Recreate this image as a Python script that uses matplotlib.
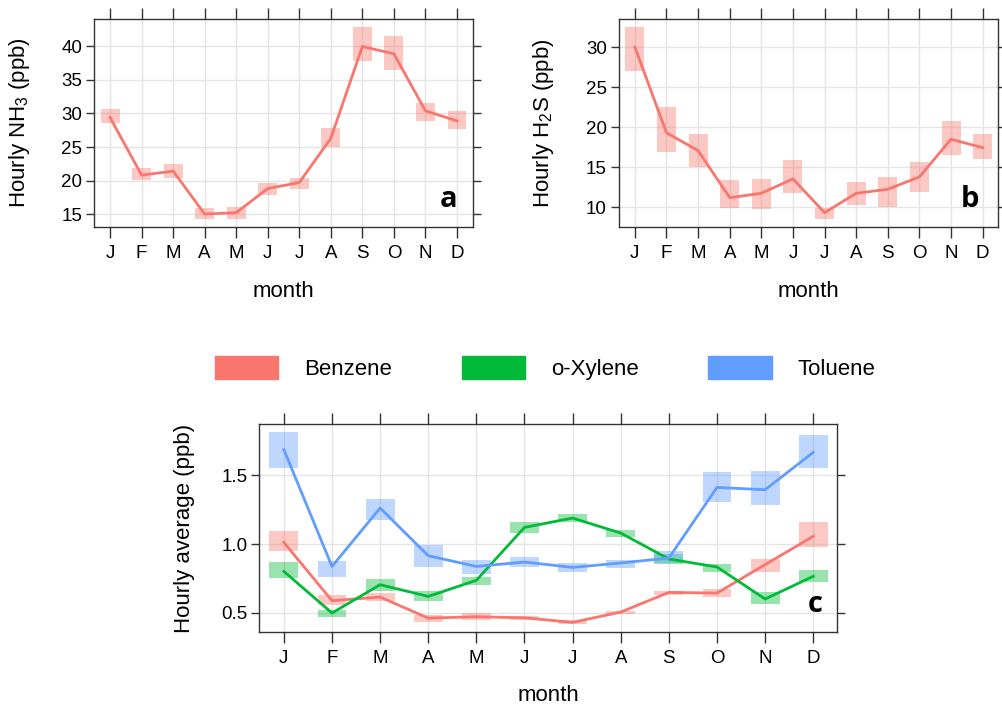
import matplotlib
matplotlib.use("Agg")
import matplotlib.pyplot as plt
from matplotlib.patches import Patch

plt.rcParams['font.family'] = ['Liberation Sans', 'DejaVu Sans']
plt.rcParams['mathtext.default'] = 'regular'

months = ['J', 'F', 'M', 'A', 'M', 'J', 'J', 'A', 'S', 'O', 'N', 'D']
mx = list(range(1, 13))

# panel a: NH3
nh3_mean = [29.4, 20.8, 21.4, 15.0, 15.2, 18.8, 19.7, 26.3, 40.0, 38.9, 30.4, 28.9]
nh3_lo = [28.55, 20.1, 20.4, 14.25, 14.25, 17.8, 18.8, 25.05, 37.8, 36.5, 28.9, 27.65]
nh3_hi = [30.7, 21.9, 22.4, 15.85, 16.1, 19.7, 20.4, 27.9, 42.9, 41.5, 31.6, 30.4]

# panel b: H2S
h2s_mean = [30.0, 19.3, 17.07, 11.2, 11.75, 13.55, 9.33, 11.75, 12.25, 13.8, 18.5, 17.44]
h2s_lo = [27.05, 16.95, 15.0, 9.9, 9.8, 11.75, 8.55, 10.3, 10.0, 11.9, 16.5, 16.0]
h2s_hi = [32.46, 22.5, 19.1, 13.4, 13.5, 15.9, 9.88, 13.2, 13.8, 15.7, 20.77, 19.2]

# panel c: VOCs
benz_mean = [1.012, 0.588, 0.614, 0.461, 0.471, 0.463, 0.430, 0.505, 0.648, 0.643, 0.850, 1.056]
benz_lo = [0.947, 0.554, 0.583, 0.432, 0.449, 0.449, 0.418, 0.491, 0.629, 0.614, 0.796, 0.976]
benz_hi = [1.097, 0.626, 0.643, 0.486, 0.495, 0.480, 0.449, 0.515, 0.660, 0.675, 0.891, 1.160]

xyl_mean = [0.801, 0.498, 0.704, 0.619, 0.736, 1.121, 1.189, 1.080, 0.891, 0.833, 0.600, 0.765]
xyl_lo = [0.753, 0.466, 0.656, 0.588, 0.704, 1.078, 1.160, 1.049, 0.857, 0.794, 0.566, 0.721]
xyl_hi = [0.867, 0.522, 0.745, 0.656, 0.757, 1.163, 1.221, 1.104, 0.927, 0.857, 0.648, 0.813]

tol_mean = [1.687, 0.837, 1.262, 0.915, 0.837, 0.869, 0.830, 0.862, 0.898, 1.412, 1.395, 1.667]
tol_lo = [1.551, 0.760, 1.172, 0.830, 0.784, 0.833, 0.796, 0.825, 0.862, 1.306, 1.281, 1.551]
tol_hi = [1.813, 0.876, 1.330, 0.990, 0.883, 0.908, 0.862, 0.886, 0.947, 1.526, 1.534, 1.793]

RED = '#F8766D'
GREEN = '#00BA38'
BLUE = '#619CFF'


def style_axes(ax, ylim, yticks, ylabel, letter, lx, wpx, hpx):
    ax.set_xlim(0.49, 12.5)
    ax.set_ylim(*ylim)
    ax.set_xticks(mx)
    ax.set_xticklabels(months)
    ax.set_yticks(yticks)
    ax.grid(True, color='#e4e4e4', lw=1)
    ax.set_axisbelow(True)
    ax.tick_params(axis='x', direction='out', length=8, width=1, top=True,
                   labelsize=13.5, pad=5, color='#333333')
    ax.tick_params(axis='y', direction='out', length=6, width=1, right=True,
                   labelsize=13.5, pad=2.5, color='#333333')
    for s in ax.spines.values():
        s.set_color('#333333')
        s.set_linewidth(1)
    ax.set_xlabel('month', fontsize=16)
    ax.set_ylabel(ylabel, fontsize=16)
    ax.xaxis.set_label_coords(0.5, -64 / hpx)
    ax.xaxis.label.set_va('center')
    ax.yaxis.set_label_coords(-75 / wpx, 0.5)
    ax.yaxis.label.set_va('center')
    ax.text(lx, 0.13, letter, transform=ax.transAxes, ha='center', va='center',
            fontsize=21, fontweight='bold', family='Open Sans')


def series(ax, mean, lo, hi, col):
    ax.bar(mx, [h - l for h, l in zip(hi, lo)], bottom=lo, width=0.6,
           color=col, alpha=0.4, lw=0)
    ax.plot(mx, mean, color=col, lw=2)


fig = plt.figure(figsize=(10.02, 7.09), dpi=100)

ax_a = fig.add_axes([0.0938, 0.6798, 0.378, 0.2934])
series(ax_a, nh3_mean, nh3_lo, nh3_hi, RED)
style_axes(ax_a, (13.06, 44.1), [15, 20, 25, 30, 35, 40],
           'Hourly NH$_3$ (ppb)', 'a', 0.937, 379, 208)

ax_b = fig.add_axes([0.6175, 0.6798, 0.379, 0.2934])
series(ax_b, h2s_mean, h2s_lo, h2s_hi, RED)
style_axes(ax_b, (7.54, 33.5), [10, 15, 20, 25, 30],
           'Hourly H$_2$S (ppb)', 'b', 0.924, 380, 208)

ax_c = fig.add_axes([0.2588, 0.109, 0.5768, 0.2925])
series(ax_c, benz_mean, benz_lo, benz_hi, RED)
series(ax_c, xyl_mean, xyl_lo, xyl_hi, GREEN)
series(ax_c, tol_mean, tol_lo, tol_hi, BLUE)
style_axes(ax_c, (0.362, 1.871), [0.5, 1.0, 1.5],
           'Hourly average (ppb)', 'c', 0.961, 578, 207.4)

handles = [Patch(color=RED), Patch(color=GREEN), Patch(color=BLUE)]
fig.legend(handles, ['Benzene', 'o-Xylene', 'Toluene'], loc='center',
           bbox_to_anchor=(545 / 1002, 1 - 368 / 709), ncol=3, frameon=False,
           fontsize=16, handlelength=2.84, handleheight=1.2,
           handletextpad=1.17, columnspacing=3.15)

fig.savefig('out.png', dpi=100)
